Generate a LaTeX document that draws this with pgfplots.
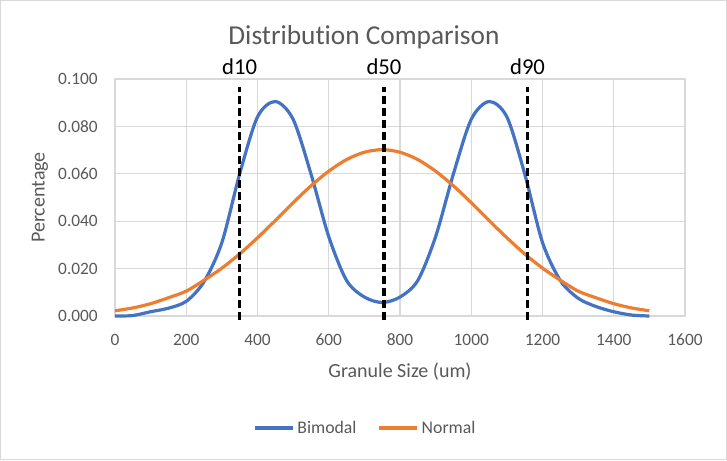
\documentclass[border=0pt]{standalone}
\usepackage{pgfplots}
\pgfplotsset{compat=1.18}
\usepackage{fontspec}
\setmainfont{Carlito}[RawFeature={-liga;-clig;-calt;-dlig}]
\definecolor{xblue}{HTML}{4472C4}
\definecolor{xorange}{HTML}{ED7D31}
\definecolor{xgrid}{HTML}{D9D9D9}
\definecolor{xtext}{HTML}{595959}
\begin{document}
\begin{tikzpicture}
\useasboundingbox (-86.25pt,-108pt) rectangle (459pt,237pt);
\fill[white] (-86.25pt,-108pt) rectangle (459pt,237pt);
\draw[xgrid, line width=1pt] (-85.75pt,-107.5pt) rectangle (458.5pt,236.5pt);
\begin{axis}[
  at={(0,0)}, anchor=south west,
  scale only axis,
  width=427.5pt, height=177.75pt,
  xmin=0, xmax=1600, ymin=0, ymax=0.1,
  xtick={0,200,400,600,800,1000,1200,1400,1600},
  ytick={0,0.02,0.04,0.06,0.08,0.1},
  grid=major,
  major grid style={xgrid, line width=0.9pt},
  axis line style={xgrid, line width=0.9pt},
  tick style={draw=none},
  clip=false,
  /pgf/number format/assume math mode=true,
  /pgf/number format/1000 sep={},
  yticklabel style={/pgf/number format/fixed, /pgf/number format/fixed zerofill, /pgf/number format/precision=3, anchor=east, inner sep=0pt, xshift=-12.75pt},
  xticklabel style={anchor=base, inner sep=0pt, yshift=-22pt},
  ticklabel style={font=\fontsize{13}{15}\selectfont, text=xtext},
  xlabel={Granule Size (um)},
  ylabel={Percentage},
  xlabel style={at={(axis description cs:0.5,-0.2363)}, anchor=center, font=\fontsize{15}{18}\selectfont, text=xtext},
  ylabel style={at={(axis description cs:-0.1316,0.5)}, anchor=center, font=\fontsize{15}{18}\selectfont, text=xtext},
  legend columns=2,
  legend style={at={(axis description cs:0.44,-0.4726)}, anchor=center, draw=none, fill=none, inner sep=0pt,
    font=\fontsize{13.3}{16}\selectfont, text=xtext,
    /tikz/every even column/.append style={column sep=14pt}},
  legend cell align=left,
  legend image code/.code={\draw[#1] (0pt,0pt) -- (28.5pt,0pt);},
]
\addplot[xblue, line width=2.4pt, smooth] coordinates {
(0,0) (50,0.0002) (100,0.0018) (150,0.0033) (200,0.0062) (250,0.0145) (300,0.031)
(350,0.060) (400,0.084) (450,0.0905) (500,0.083) (550,0.060) (600,0.0335) (650,0.015)
(700,0.0080) (750,0.0057) (800,0.0080) (850,0.015) (900,0.0335) (950,0.060) (1000,0.083)
(1050,0.0905) (1100,0.084) (1150,0.060) (1200,0.031) (1250,0.0150) (1300,0.0075)
(1350,0.004) (1400,0.0018) (1450,0.0004) (1500,0)
};
\addlegendentry{Bimodal}
\addplot[xorange, line width=2.4pt, smooth] coordinates {
(0,0.0022) (50,0.0034) (100,0.0052) (150,0.0077) (200,0.0105) (250,0.0151) (300,0.0202)
(350,0.0262) (400,0.0330) (450,0.0403) (500,0.0478) (550,0.0549) (600,0.0611) (650,0.0660)
(700,0.0691) (750,0.0702) (800,0.0691) (850,0.0660) (900,0.0611) (950,0.0549) (1000,0.0478)
(1050,0.0403) (1100,0.0330) (1150,0.0262) (1200,0.0202) (1250,0.0151) (1300,0.0105)
(1350,0.0077) (1400,0.0052) (1450,0.0034) (1500,0.0022)
};
\addlegendentry{Normal}
\addplot[black, line width=2.5pt, dash pattern=on 6pt off 3pt, forget plot] coordinates {(350,-0.0017) (350,0.0966)};
\addplot[black, line width=2.5pt, dash pattern=on 6pt off 3pt, forget plot] coordinates {(755,-0.0017) (755,0.0966)};
\addplot[black, line width=2.5pt, dash pattern=on 6pt off 3pt, forget plot] coordinates {(1158,-0.0017) (1158,0.0966)};
\node[anchor=base, inner sep=0pt, font=\fontsize{17}{20}\selectfont] at (axis cs:350,0.1) [yshift=3pt] {d10};
\node[anchor=base, inner sep=0pt, font=\fontsize{17}{20}\selectfont] at (axis cs:755,0.1) [yshift=3pt] {d50};
\node[anchor=base, inner sep=0pt, font=\fontsize{17}{20}\selectfont] at (axis cs:1158,0.1) [yshift=3pt] {d90};
\node[anchor=base, inner sep=0pt, font=\fontsize{20.5}{24}\selectfont, text=xtext] at (axis description cs:0.4368,1.1435) {Distribu\kern0pt tion Comparison};
\end{axis}
\end{tikzpicture}
\end{document}
